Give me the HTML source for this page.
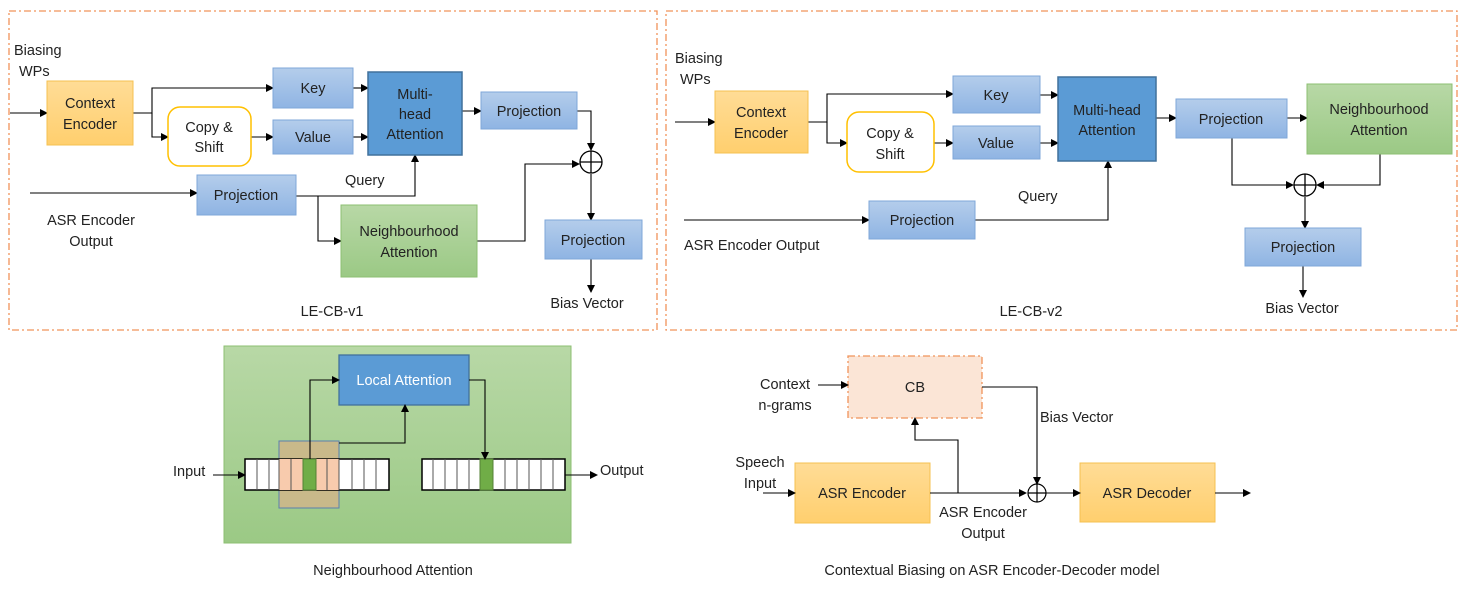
<!DOCTYPE html>
<html><head><meta charset="utf-8"><style>
body{margin:0;background:#fff}
svg text{font-family:"Liberation Sans",sans-serif;font-size:14.5px;fill:#222}
</style></head><body>
<svg width="1465" height="601" viewBox="0 0 1465 601" xmlns="http://www.w3.org/2000/svg">
<defs>
<marker id="a" markerWidth="8" markerHeight="8" refX="7" refY="4" orient="auto" markerUnits="userSpaceOnUse"><path d="M0,0 L8,4 L0,8z" fill="#000"/></marker>
<linearGradient id="bl" x1="0" y1="0" x2="0" y2="1"><stop offset="0" stop-color="#b4cdeb"/><stop offset="1" stop-color="#8fb4e3"/></linearGradient>
<linearGradient id="or" x1="0" y1="0" x2="0" y2="1"><stop offset="0" stop-color="#ffdc96"/><stop offset="1" stop-color="#ffcf6e"/></linearGradient>
<linearGradient id="gr" x1="0" y1="0" x2="0" y2="1"><stop offset="0" stop-color="#b8d8a6"/><stop offset="1" stop-color="#9bc985"/></linearGradient>
</defs>
<g fill="none" stroke="#f0935a" stroke-width="1.3" stroke-dasharray="7,3,2,3">
<rect x="9" y="11" width="648" height="319"/>
<rect x="666" y="11" width="791" height="319"/>
</g>
<g stroke="#000" stroke-width="1.1" fill="none">
<!-- left panel -->
<path d="M10,113H47" marker-end="url(#a)"/>
<path d="M133,113H152V88H273" marker-end="url(#a)"/>
<path d="M152,113V137H168" marker-end="url(#a)"/>
<path d="M251,137H273" marker-end="url(#a)"/>
<path d="M353,88H368" marker-end="url(#a)"/>
<path d="M353,137H368" marker-end="url(#a)"/>
<path d="M462,111H481" marker-end="url(#a)"/>
<path d="M577,111H591V150" marker-end="url(#a)"/>
<path d="M30,193H197" marker-end="url(#a)"/>
<path d="M296,196H415V155" marker-end="url(#a)"/>
<path d="M318,196V241H341" marker-end="url(#a)"/>
<path d="M477,241H525V164H579" marker-end="url(#a)"/>
<path d="M591,174V220" marker-end="url(#a)"/>
<path d="M591,259V292" marker-end="url(#a)"/>
<!-- right panel -->
<path d="M675,122H715" marker-end="url(#a)"/>
<path d="M808,122H827V94H953" marker-end="url(#a)"/>
<path d="M827,122V143H847" marker-end="url(#a)"/>
<path d="M934,143H953" marker-end="url(#a)"/>
<path d="M1040,95H1058" marker-end="url(#a)"/>
<path d="M1040,143H1058" marker-end="url(#a)"/>
<path d="M1156,118H1176" marker-end="url(#a)"/>
<path d="M1287,118H1307" marker-end="url(#a)"/>
<path d="M1232,138V185H1293" marker-end="url(#a)"/>
<path d="M1380,154V185H1317" marker-end="url(#a)"/>
<path d="M1305,197V228" marker-end="url(#a)"/>
<path d="M1303,266V297" marker-end="url(#a)"/>
<path d="M684,220H869" marker-end="url(#a)"/>
<path d="M975,220H1108V161" marker-end="url(#a)"/>
</g>
<!-- left boxes -->
<rect x="47" y="81" width="86" height="64" fill="url(#or)" stroke="#f5c050"/>
<rect x="273" y="68" width="80" height="40" fill="url(#bl)" stroke="#7fa7d8"/>
<rect x="168" y="107" width="83" height="59" rx="12" fill="#fff" stroke="#ffc000" stroke-width="1.5"/>
<rect x="273" y="120" width="80" height="34" fill="url(#bl)" stroke="#7fa7d8"/>
<rect x="368" y="72" width="94" height="83" fill="#5b9bd5" stroke="#41719c" stroke-width="1.5"/>
<rect x="481" y="92" width="96" height="37" fill="url(#bl)" stroke="#7fa7d8"/>
<rect x="197" y="175" width="99" height="40" fill="url(#bl)" stroke="#7fa7d8"/>
<rect x="341" y="205" width="136" height="72" fill="url(#gr)" stroke="#8cbf72"/>
<rect x="545" y="220" width="97" height="39" fill="url(#bl)" stroke="#7fa7d8"/>
<circle cx="591" cy="162" r="11" fill="#fff" stroke="#000" stroke-width="1.3"/>
<path d="M580,162H602M591,151V173" stroke="#000" stroke-width="1.3"/>
<!-- right boxes -->
<rect x="715" y="91" width="93" height="62" fill="url(#or)" stroke="#f5c050"/>
<rect x="953" y="76" width="87" height="37" fill="url(#bl)" stroke="#7fa7d8"/>
<rect x="847" y="112" width="87" height="60" rx="12" fill="#fff" stroke="#ffc000" stroke-width="1.5"/>
<rect x="953" y="126" width="87" height="33" fill="url(#bl)" stroke="#7fa7d8"/>
<rect x="1058" y="77" width="98" height="84" fill="#5b9bd5" stroke="#41719c" stroke-width="1.5"/>
<rect x="1176" y="99" width="111" height="39" fill="url(#bl)" stroke="#7fa7d8"/>
<rect x="1307" y="84" width="145" height="70" fill="url(#gr)" stroke="#8cbf72"/>
<rect x="1245" y="228" width="116" height="38" fill="url(#bl)" stroke="#7fa7d8"/>
<rect x="869" y="201" width="106" height="38" fill="url(#bl)" stroke="#7fa7d8"/>
<circle cx="1305" cy="185" r="11" fill="#fff" stroke="#000" stroke-width="1.3"/>
<path d="M1294,185H1316M1305,174V196" stroke="#000" stroke-width="1.3"/>
<!-- left text -->
<text x="14" y="55">Biasing</text><text x="19" y="76">WPs</text>
<text x="90" y="108" text-anchor="middle">Context</text><text x="90" y="129" text-anchor="middle">Encoder</text>
<text x="313" y="93" text-anchor="middle">Key</text>
<text x="209" y="132" text-anchor="middle">Copy &amp;</text><text x="209" y="152" text-anchor="middle">Shift</text>
<text x="313" y="142" text-anchor="middle">Value</text>
<text x="415" y="99" text-anchor="middle">Multi-</text><text x="415" y="119" text-anchor="middle">head</text><text x="415" y="139" text-anchor="middle">Attention</text>
<text x="529" y="116" text-anchor="middle">Projection</text>
<text x="246" y="200" text-anchor="middle">Projection</text>
<text x="345" y="185">Query</text>
<text x="409" y="236" text-anchor="middle">Neighbourhood</text><text x="409" y="257" text-anchor="middle">Attention</text>
<text x="593" y="245" text-anchor="middle">Projection</text>
<text x="91" y="225" text-anchor="middle">ASR Encoder</text><text x="91" y="246" text-anchor="middle">Output</text>
<text x="332" y="316" text-anchor="middle">LE-CB-v1</text>
<text x="587" y="308" text-anchor="middle">Bias Vector</text>
<!-- right text -->
<text x="675" y="63">Biasing</text><text x="680" y="84">WPs</text>
<text x="761" y="117" text-anchor="middle">Context</text><text x="761" y="138" text-anchor="middle">Encoder</text>
<text x="996" y="100" text-anchor="middle">Key</text>
<text x="890" y="138" text-anchor="middle">Copy &amp;</text><text x="890" y="159" text-anchor="middle">Shift</text>
<text x="996" y="148" text-anchor="middle">Value</text>
<text x="1107" y="115" text-anchor="middle">Multi-head</text><text x="1107" y="135" text-anchor="middle">Attention</text>
<text x="1231" y="124" text-anchor="middle">Projection</text>
<text x="1379" y="114" text-anchor="middle">Neighbourhood</text><text x="1379" y="135" text-anchor="middle">Attention</text>
<text x="1303" y="252" text-anchor="middle">Projection</text>
<text x="922" y="225" text-anchor="middle">Projection</text>
<text x="1018" y="201">Query</text>
<text x="684" y="250">ASR Encoder Output</text>
<text x="1031" y="316" text-anchor="middle">LE-CB-v2</text>
<text x="1302" y="313" text-anchor="middle">Bias Vector</text>
<!-- bottom left -->
<rect x="224" y="346" width="347" height="197" fill="url(#gr)" stroke="#8cbf72"/>
<rect x="279" y="441" width="60" height="67" fill="#c9b98a" stroke="#5a7fae"/>
<g stroke="#000" stroke-width="1">
<rect x="245" y="459" width="144" height="31" fill="#fff" stroke-width="1.5"/>
<rect x="279" y="459" width="60" height="31" fill="#f8cbad" stroke="none"/>
<rect x="303" y="459" width="13" height="31" fill="#70ad47" stroke="#538135"/>
<path d="M257,459V490M269,459V490M279,459V490M291,459V490M327,459V490M339,459V490M352,459V490M364,459V490M376,459V490" stroke="#555"/>
<rect x="422" y="459" width="143" height="31" fill="#fff" stroke-width="1.5"/>
<rect x="480" y="459" width="13" height="31" fill="#70ad47" stroke="#538135"/>
<path d="M433,459V490M445,459V490M457,459V490M469,459V490M505,459V490M517,459V490M529,459V490M541,459V490M553,459V490" stroke="#555"/>
</g>
<rect x="339" y="355" width="130" height="50" fill="#5b9bd5" stroke="#41719c" stroke-width="1.3"/>
<text x="404" y="385" text-anchor="middle" style="fill:#fff">Local Attention</text>
<g stroke="#000" stroke-width="1.1" fill="none">
<path d="M310,459V380H339" marker-end="url(#a)"/>
<path d="M339,443H405V405" marker-end="url(#a)"/>
<path d="M469,380H485V459" marker-end="url(#a)"/>
<path d="M213,475H245" marker-end="url(#a)"/>
<path d="M565,475H597" marker-end="url(#a)"/>
</g>
<text x="173" y="476">Input</text>
<text x="600" y="475">Output</text>
<text x="393" y="575" text-anchor="middle">Neighbourhood Attention</text>
<!-- bottom right -->
<rect x="848" y="356" width="134" height="62" fill="#fbe5d6" stroke="#f0935a" stroke-width="1.3" stroke-dasharray="7,3,2,3"/>
<text x="915" y="392" text-anchor="middle">CB</text>
<rect x="795" y="463" width="135" height="60" fill="url(#or)" stroke="#f5c050"/>
<text x="862" y="498" text-anchor="middle">ASR Encoder</text>
<rect x="1080" y="463" width="135" height="59" fill="url(#or)" stroke="#f5c050"/>
<text x="1147" y="498" text-anchor="middle">ASR Decoder</text>
<g stroke="#000" stroke-width="1.1" fill="none">
<path d="M818,385H848" marker-end="url(#a)"/>
<path d="M763,493H795" marker-end="url(#a)"/>
<path d="M930,493H1026" marker-end="url(#a)"/>
<path d="M958,493V440H915V418" marker-end="url(#a)"/>
<path d="M982,387H1037V484" marker-end="url(#a)"/>
<path d="M1046,493H1080" marker-end="url(#a)"/>
<path d="M1215,493H1250" marker-end="url(#a)"/>
</g>
<circle cx="1037" cy="493" r="9" fill="#fff" stroke="#000" stroke-width="1.2"/>
<path d="M1028,493H1046M1037,484V502" stroke="#000" stroke-width="1.2"/>
<text x="785" y="389" text-anchor="middle">Context</text><text x="785" y="410" text-anchor="middle">n-grams</text>
<text x="760" y="467" text-anchor="middle">Speech</text><text x="760" y="488" text-anchor="middle">Input</text>
<text x="1040" y="422">Bias Vector</text>
<text x="983" y="517" text-anchor="middle">ASR Encoder</text><text x="983" y="538" text-anchor="middle">Output</text>
<text x="992" y="575" text-anchor="middle">Contextual Biasing on ASR Encoder-Decoder model</text>
</svg>
</body></html>
